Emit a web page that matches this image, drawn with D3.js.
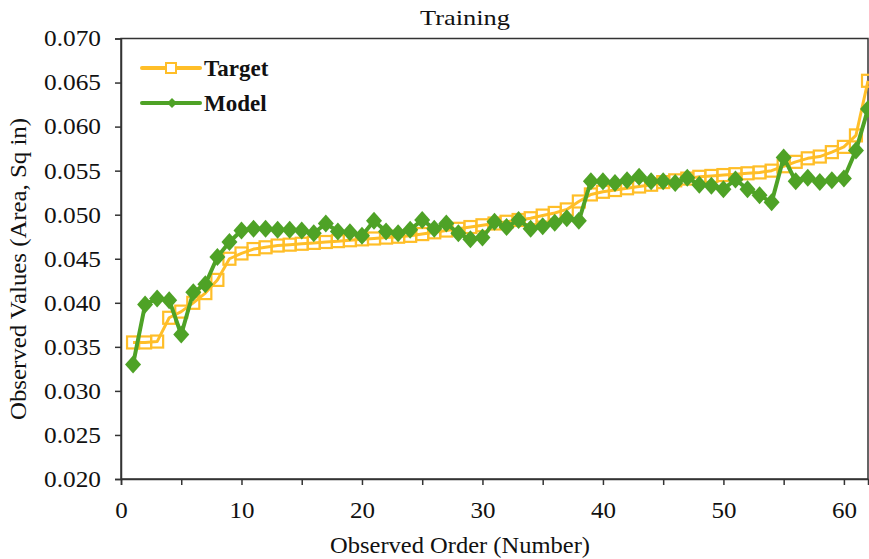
<!DOCTYPE html>
<html>
<head>
<meta charset="utf-8">
<script src="https://cdn.jsdelivr.net/npm/d3@7"></script>
<style>
  body { margin: 0; background: #fff; }
  svg { display: block; }
  text { font-family: "Liberation Serif", "Times New Roman", serif; fill: #111; }
</style>
</head>
<body>
<svg id="chart" width="869" height="559"></svg>
<script>
// observed order 1..62
const order = d3.range(1, 63);

// Target (sorted observed area, sq in)
const targetVals = [
  0.0355, 0.0355, 0.0356, 0.0383, 0.0390, 0.0400, 0.0411, 0.0426, 0.0450, 0.0456,
  0.0461, 0.0463, 0.0465, 0.0466, 0.0467, 0.0468, 0.0469, 0.0470, 0.0471, 0.0472,
  0.0473, 0.0474, 0.0475, 0.0476, 0.0478, 0.0480, 0.0482, 0.0484, 0.0486, 0.0488,
  0.0490, 0.0492, 0.0494, 0.0496, 0.0499, 0.0502, 0.0506, 0.0515, 0.0523, 0.0526,
  0.0528, 0.0530, 0.0532, 0.0534, 0.0537, 0.0539, 0.0541, 0.0543, 0.0544, 0.0545,
  0.0546, 0.0547, 0.0548, 0.0550, 0.0555, 0.0560, 0.0564, 0.0566, 0.0571, 0.0577,
  0.0590, 0.0652
];

// Model predictions
const modelVals = [
  0.0330, 0.0398, 0.0405, 0.0403, 0.0364, 0.0412, 0.0421, 0.0452, 0.0469, 0.0482,
  0.0484, 0.0484, 0.0483, 0.0483, 0.0482, 0.0479, 0.0490, 0.0481, 0.0480, 0.0476,
  0.0493, 0.0481, 0.0479, 0.0483, 0.0494, 0.0484, 0.0490, 0.0479, 0.0472, 0.0474,
  0.0492, 0.0486, 0.0494, 0.0484, 0.0487, 0.0491, 0.0496, 0.0493, 0.0538, 0.0538,
  0.0536, 0.0539, 0.0543, 0.0538, 0.0538, 0.0536, 0.0542, 0.0534, 0.0533, 0.0529,
  0.0540, 0.0529, 0.0522, 0.0514, 0.0565, 0.0538, 0.0542, 0.0537, 0.0539, 0.0541,
  0.0573, 0.0620
];

const xTicks = [0, 5, 10, 15, 20, 25, 30, 35, 40, 45, 50, 55, 60];
const yTicks = [0.020, 0.025, 0.030, 0.035, 0.040, 0.045, 0.050, 0.055, 0.060, 0.065, 0.070];

const series = [
  {name: "Target", values: targetVals, color: "#FFBE28", marker: "square"},
  {name: "Model", values: modelVals, color: "#4EA226", marker: "diamond"}
];

const svg = d3.select("#chart");
const m = {left: 121, right: 868, top: 38.5, bottom: 479};

const x = d3.scaleLinear().domain([0, 62]).range([m.left, m.right]);
const y = d3.scaleLinear().domain([0.020, 0.070]).range([m.bottom, m.top]);

// frame
svg.append("rect")
  .attr("x", m.left).attr("y", m.top)
  .attr("width", m.right - m.left).attr("height", m.bottom - m.top)
  .attr("fill", "none").attr("stroke", "#333").attr("stroke-width", 1.5);

// axes
const xAxis = svg.append("g")
  .attr("transform", "translate(0," + m.bottom + ")")
  .call(d3.axisBottom(x).tickValues(xTicks).tickSize(6).tickPadding(17)
    .tickFormat(d => d % 10 === 0 ? d : ""));
const yAxis = svg.append("g")
  .attr("transform", "translate(" + m.left + ",0)")
  .call(d3.axisLeft(y).tickValues(yTicks).tickSize(6).tickPadding(14)
    .tickFormat(d3.format(".3f")));

[xAxis, yAxis].forEach(g => {
  g.select(".domain").attr("stroke", "#333").attr("stroke-width", 1.5);
  g.selectAll(".tick line").attr("stroke", "#333").attr("stroke-width", 1.5);
  g.selectAll(".tick text").style("font-size", "23px").attr("fill", "#111")
    .attr("lengthAdjust", "spacingAndGlyphs");
});
yAxis.selectAll(".tick text").attr("textLength", 57);
xAxis.selectAll(".tick text").attr("textLength", function() { return this.textContent.length * 12.5; });

// lines and markers
const line = d3.line().x((d, i) => x(order[i])).y(d => y(d));

function drawMarker(g, type, color, cx, cy) {
  if (type === "square") {
    g.append("rect")
      .attr("x", cx - 6).attr("y", cy - 6).attr("width", 12).attr("height", 12)
      .attr("fill", "none").attr("stroke", color).attr("stroke-width", 2.2);
  } else {
    // diamond, 16 wide x 18 tall
    g.append("path")
      .attr("d", "M" + cx + "," + (cy - 9) + "L" + (cx + 8) + "," + cy +
                 "L" + cx + "," + (cy + 9) + "L" + (cx - 8) + "," + cy + "Z")
      .attr("fill", color);
  }
}

series.forEach(s => {
  const g = svg.append("g");
  g.append("path")
    .attr("d", line(s.values))
    .attr("fill", "none").attr("stroke", s.color)
    .attr("stroke-width", s.marker === "square" ? 3 : 4)
    .attr("stroke-linejoin", "round");
  s.values.forEach((v, i) => drawMarker(g, s.marker, s.color, x(order[i]), y(v)));
});

// legend
const legend = svg.append("g");
series.forEach((s, i) => {
  const ly = 68 + i * 35;
  legend.append("line")
    .attr("x1", 142).attr("x2", 200).attr("y1", ly).attr("y2", ly)
    .attr("stroke", s.color).attr("stroke-width", 4).attr("stroke-linecap", "round");
  if (s.marker === "square") {
    legend.append("rect")
      .attr("x", 166).attr("y", ly - 5).attr("width", 10).attr("height", 10)
      .attr("fill", "#fff").attr("stroke", s.color).attr("stroke-width", 2);
  } else {
    legend.append("path")
      .attr("d", "M172," + (ly - 5) + "L177," + ly + "L172," + (ly + 5) + "L167," + ly + "Z")
      .attr("fill", s.color);
  }
  legend.append("text")
    .attr("x", 204).attr("y", ly + 8)
    .style("font-size", "23px").style("font-weight", "bold")
    .text(s.name);
});

// titles
svg.append("text")
  .attr("x", 465).attr("y", 25).attr("text-anchor", "middle")
  .attr("textLength", 90).attr("lengthAdjust", "spacingAndGlyphs")
  .style("font-size", "22px")
  .text("Training");

svg.append("text")
  .attr("x", 460).attr("y", 553).attr("text-anchor", "middle")
  .attr("textLength", 260).attr("lengthAdjust", "spacingAndGlyphs")
  .style("font-size", "23px")
  .text("Observed Order (Number)");

svg.append("text")
  .attr("transform", "translate(26,269) rotate(-90)")
  .attr("text-anchor", "middle")
  .attr("textLength", 302).attr("lengthAdjust", "spacingAndGlyphs")
  .style("font-size", "23px")
  .text("Observed Values (Area, Sq in)");
</script>
</body>
</html>
